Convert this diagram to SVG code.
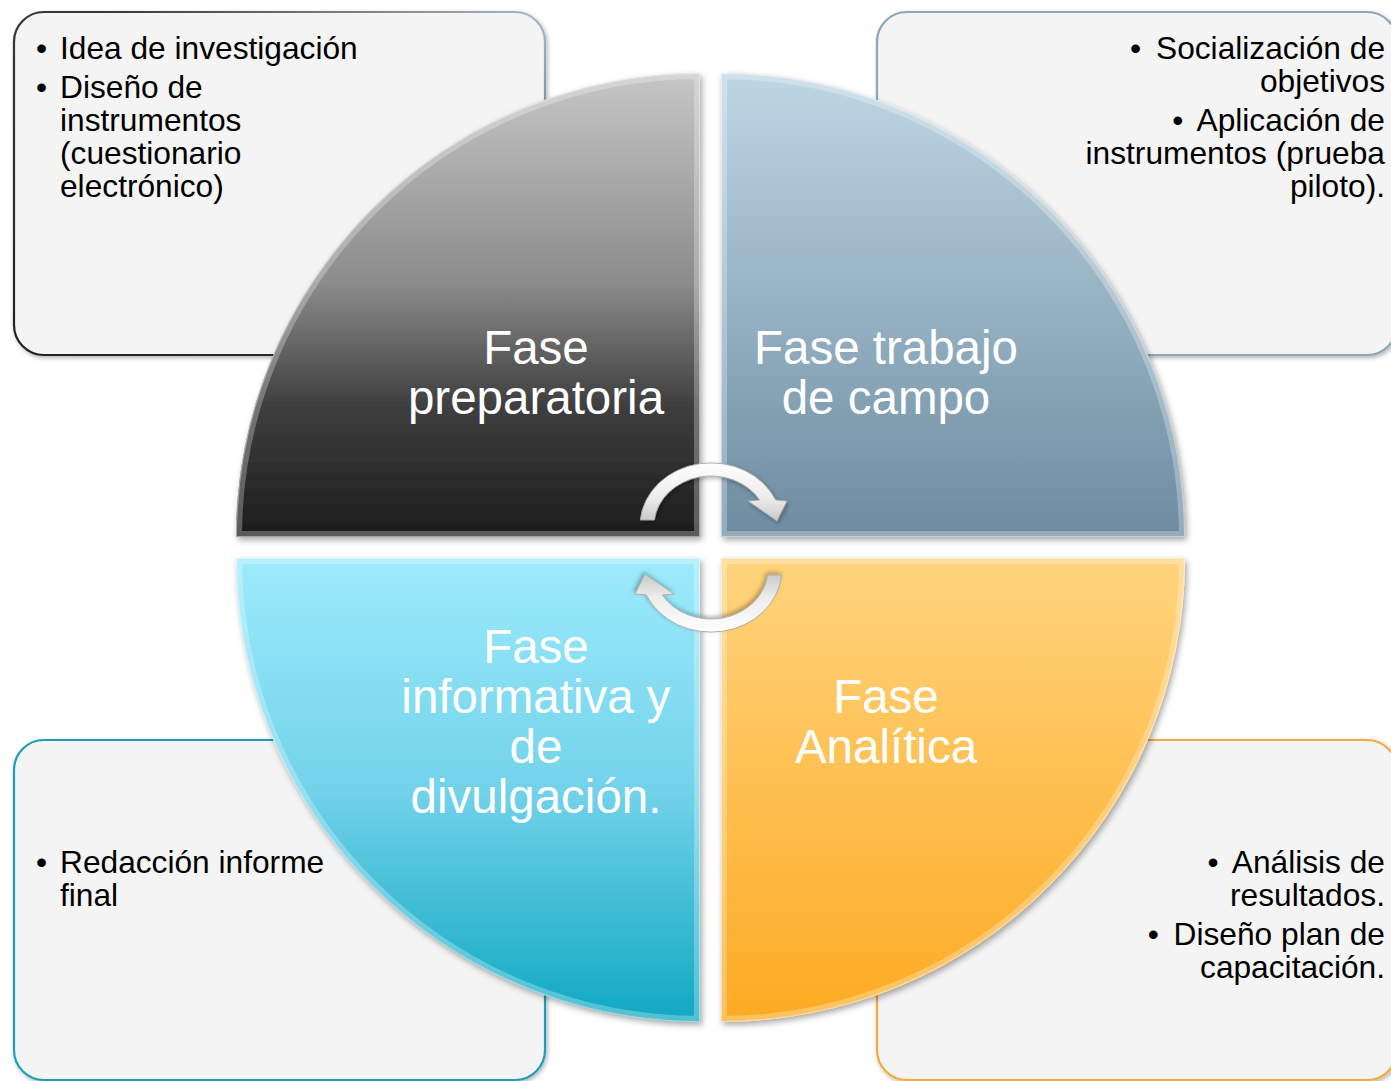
<svg xmlns="http://www.w3.org/2000/svg" width="1391" height="1081" viewBox="0 0 1391 1081">
<style>
.box{fill:#f4f4f4;stroke-width:2.2}
.bt{font-family:"Liberation Sans",Arial,sans-serif;font-size:31.7px;fill:#000}
.r{text-anchor:end}
.ql{font-family:"Liberation Sans",Arial,sans-serif;font-size:47.5px;fill:#fff;text-anchor:middle}
.bev{fill:none;stroke:#fff;stroke-opacity:0.28;stroke-width:12}
.edge{fill:none;stroke:#fff;stroke-opacity:0.45;stroke-width:2}
.arr{fill:url(#gArr);stroke:#a8a8a8;stroke-width:0.9}
</style>
<defs>
<filter id="sh" x="-10%" y="-10%" width="130%" height="130%">
<feDropShadow dx="2" dy="3" stdDeviation="3" flood-color="#000" flood-opacity="0.35"/>
</filter>
<filter id="shs" x="-10%" y="-10%" width="130%" height="130%">
<feDropShadow dx="1.5" dy="2" stdDeviation="2" flood-color="#000" flood-opacity="0.3"/>
</filter>
<linearGradient id="gTL" x1="0" y1="0" x2="0" y2="1">
<stop offset="0" stop-color="#c6c6c6"/><stop offset="0.45" stop-color="#8c8c8c"/><stop offset="0.72" stop-color="#3e3e3e"/><stop offset="1" stop-color="#1c1c1c"/>
</linearGradient>
<linearGradient id="gTR" x1="0" y1="0" x2="0" y2="1">
<stop offset="0" stop-color="#bfd6e4"/><stop offset="1" stop-color="#6d8ca1"/>
</linearGradient>
<linearGradient id="gBL" x1="0" y1="0" x2="0" y2="1">
<stop offset="0" stop-color="#9debfc"/><stop offset="0.5" stop-color="#72d2ea"/><stop offset="1" stop-color="#0fa8c2"/>
</linearGradient>
<linearGradient id="gBR" x1="0" y1="0" x2="0" y2="1">
<stop offset="0" stop-color="#ffd47e"/><stop offset="1" stop-color="#fdaa22"/>
</linearGradient>
<linearGradient id="gArr" x1="0" y1="0" x2="0" y2="1">
<stop offset="0" stop-color="#ffffff"/><stop offset="0.6" stop-color="#ececec"/><stop offset="1" stop-color="#c9c9c9"/>
</linearGradient>
<linearGradient id="sTL" x1="0" y1="1" x2="1" y2="0">
<stop offset="0" stop-color="#222"/><stop offset="0.6" stop-color="#3a3a3a"/><stop offset="1" stop-color="#a9bccb"/>
</linearGradient>
<clipPath id="cTL"><path d="M700 537 L236 537 A464 464 0 0 1 700 73 Z"/></clipPath>
<clipPath id="cTR"><path d="M721 537 L721 73 A464 464 0 0 1 1185 537 Z"/></clipPath>
<clipPath id="cBL"><path d="M700 558 L700 1022 A464 464 0 0 1 236 558 Z"/></clipPath>
<clipPath id="cBR"><path d="M721 558 L1185 558 A464 464 0 0 1 721 1022 Z"/></clipPath>
<path id="arrow" d="M640.3 520 A71 63 0 0 1 775.7 500 L787 501 L777 521 L748 501 L759.7 500 A57 50 0 0 0 654.4 520 Z"/>
</defs>
<rect width="1391" height="1081" fill="#fff"/>

<g id="box-preparatoria">
<rect class="box" x="14" y="12" width="531" height="343" rx="30" stroke="url(#sTL)" filter="url(#shs)"/>
<text class="bt" x="36" y="59">•</text>
<text class="bt" x="60" y="59">Idea de investigación</text>
<text class="bt" x="36" y="98">•</text>
<text class="bt" x="60" y="98">Diseño de</text>
<text class="bt" x="60" y="131">instrumentos</text>
<text class="bt" x="60" y="164">(cuestionario</text>
<text class="bt" x="60" y="197">electrónico)</text>
</g>

<g id="box-campo">
<rect class="box" x="877" y="12" width="520" height="343" rx="30" stroke="#8ea6b6" filter="url(#shs)"/>
<text class="bt r" x="1385" y="59"><tspan>•</tspan><tspan dx="6"> Socialización de</tspan></text>
<text class="bt r" x="1385" y="92">objetivos</text>
<text class="bt r" x="1385" y="131"><tspan>•</tspan><tspan dx="6"> Aplicación de</tspan></text>
<text class="bt r" x="1385" y="164">instrumentos (prueba</text>
<text class="bt r" x="1385" y="197">piloto).</text>
</g>

<g id="box-divulgacion">
<rect class="box" x="14" y="740" width="531" height="340" rx="30" stroke="#1b9fb6" filter="url(#shs)"/>
<text class="bt" x="36" y="873">•</text>
<text class="bt" x="60" y="873">Redacción informe</text>
<text class="bt" x="60" y="906">final</text>
</g>

<g id="box-analitica">
<rect class="box" x="877" y="740" width="520" height="340" rx="30" stroke="#f6aa3c" filter="url(#shs)"/>
<text class="bt r" x="1385" y="873"><tspan>•</tspan><tspan dx="6"> Análisis de</tspan></text>
<text class="bt r" x="1385" y="906">resultados.</text>
<text class="bt r" x="1385" y="945"><tspan>•</tspan><tspan dx="6"> Diseño plan de</tspan></text>
<text class="bt r" x="1385" y="978">capacitación.</text>
</g>

<g id="q-preparatoria">
<path d="M700 537 L236 537 A464 464 0 0 1 700 73 Z" fill="url(#gTL)" filter="url(#sh)"/>
<path class="bev" d="M700 537 L236 537 A464 464 0 0 1 700 73 Z" clip-path="url(#cTL)" stroke-opacity="0.12"/>
<path class="edge" d="M700 537 L236 537 A464 464 0 0 1 700 73 Z" clip-path="url(#cTL)"/>
<text class="ql" x="536" y="364">Fase</text>
<text class="ql" x="536" y="414">preparatoria</text>
</g>

<g id="q-campo">
<path d="M721 537 L721 73 A464 464 0 0 1 1185 537 Z" fill="url(#gTR)" filter="url(#sh)"/>
<path class="bev" d="M721 537 L721 73 A464 464 0 0 1 1185 537 Z" clip-path="url(#cTR)"/>
<path class="edge" d="M721 537 L721 73 A464 464 0 0 1 1185 537 Z" clip-path="url(#cTR)"/>
<text class="ql" x="886" y="364">Fase trabajo</text>
<text class="ql" x="886" y="414">de campo</text>
</g>

<g id="q-divulgacion">
<path d="M700 558 L700 1022 A464 464 0 0 1 236 558 Z" fill="url(#gBL)" filter="url(#sh)"/>
<path class="bev" d="M700 558 L700 1022 A464 464 0 0 1 236 558 Z" clip-path="url(#cBL)"/>
<path class="edge" d="M700 558 L700 1022 A464 464 0 0 1 236 558 Z" clip-path="url(#cBL)"/>
<text class="ql" x="536" y="663">Fase</text>
<text class="ql" x="536" y="713">informativa y</text>
<text class="ql" x="536" y="763">de</text>
<text class="ql" x="536" y="813">divulgación.</text>
</g>

<g id="q-analitica">
<path d="M721 558 L1185 558 A464 464 0 0 1 721 1022 Z" fill="url(#gBR)" filter="url(#sh)"/>
<path class="bev" d="M721 558 L1185 558 A464 464 0 0 1 721 1022 Z" clip-path="url(#cBR)"/>
<path class="edge" d="M721 558 L1185 558 A464 464 0 0 1 721 1022 Z" clip-path="url(#cBR)"/>
<text class="ql" x="886" y="713">Fase</text>
<text class="ql" x="886" y="763">Analítica</text>
</g>

<g id="connectors">
<use href="#arrow" class="arr" filter="url(#shs)"/>
<use href="#arrow" class="arr" filter="url(#shs)" transform="rotate(180 711 547.5)"/>
</g>
</svg>
